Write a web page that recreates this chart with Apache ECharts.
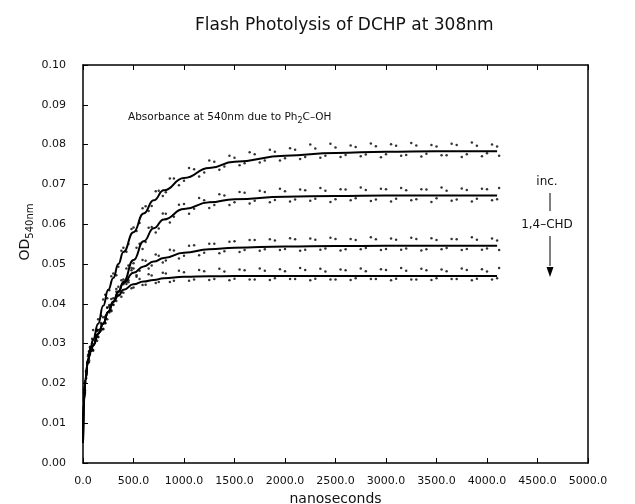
<!DOCTYPE html>
<html>
<head>
<meta charset="utf-8">
<script src="https://cdn.jsdelivr.net/npm/echarts@6/dist/echarts.min.js"></script>
<style>
  html, body { margin: 0; padding: 0; background: #fff; }
  #chart { width: 635px; height: 504px; }
</style>
</head>
<body>
<div id="chart"></div>
<script>
// fitted curves (ns, OD)
const fitTimes = [0, 10, 25, 50, 75, 100, 150, 200, 250, 300, 350, 400, 500, 600, 700, 800, 1000, 1250, 1500, 2000, 2500, 3000, 3500, 4100];
const fit1 = [0.005, 0.016, 0.021, 0.026, 0.029, 0.031, 0.035, 0.0395, 0.0435, 0.0465, 0.050, 0.053, 0.058, 0.0627, 0.066, 0.0685, 0.0716, 0.0741, 0.0757, 0.0772, 0.0779, 0.0782, 0.0783, 0.0783];
const fit2 = [0.005, 0.016, 0.021, 0.026, 0.028, 0.0295, 0.0325, 0.035, 0.038, 0.0405, 0.043, 0.0455, 0.051, 0.0557, 0.059, 0.0612, 0.0638, 0.0655, 0.0663, 0.0669, 0.0671, 0.0672, 0.0672, 0.0672];
const fit3 = [0.005, 0.016, 0.021, 0.026, 0.028, 0.0295, 0.0325, 0.035, 0.038, 0.0405, 0.043, 0.0452, 0.0478, 0.0494, 0.0506, 0.0515, 0.0528, 0.0537, 0.0541, 0.0544, 0.0545, 0.0546, 0.0546, 0.0546];
const fit4 = [0.005, 0.016, 0.021, 0.026, 0.028, 0.0295, 0.0325, 0.035, 0.038, 0.0405, 0.042, 0.0435, 0.0449, 0.0456, 0.046, 0.0464, 0.0468, 0.0469, 0.047, 0.047, 0.047, 0.047, 0.047, 0.047];

// measured points, two interleaved sweeps
const obsTimes = [10, 30, 50, 70, 90, 120, 150, 180, 220, 260, 300, 350, 400, 450, 500, 560, 620, 680, 750, 820, 900, 1000, 1100, 1200, 1300, 1400, 1500, 1600, 1700, 1800, 1900, 2000, 2100, 2200, 2300, 2400, 2500, 2600, 2700, 2800, 2900, 3000, 3100, 3200, 3300, 3400, 3500, 3600, 3700, 3800, 3900, 4000, 4100];
const obs1 = [0.0185, 0.0212, 0.0272, 0.0279, 0.0312, 0.0319, 0.0361, 0.0370, 0.0423, 0.0434, 0.0476, 0.0493, 0.0541, 0.0550, 0.0592, 0.0603, 0.0645, 0.0646, 0.0684, 0.0680, 0.0715, 0.0709, 0.0738, 0.0730, 0.0757, 0.0745, 0.0767, 0.0753, 0.0776, 0.0760, 0.0782, 0.0766, 0.0787, 0.0769, 0.0790, 0.0772, 0.0793, 0.0774, 0.0794, 0.0775, 0.0796, 0.0776, 0.0797, 0.0774, 0.0798, 0.0777, 0.0795, 0.0773, 0.0799, 0.0776, 0.0797, 0.0778, 0.0795];
const obs2 = [0.0162, 0.0231, 0.0253, 0.0291, 0.0286, 0.0322, 0.0318, 0.0352, 0.0351, 0.0397, 0.0398, 0.0443, 0.0449, 0.0496, 0.0502, 0.0551, 0.0555, 0.0593, 0.0589, 0.0626, 0.0619, 0.0651, 0.0639, 0.0660, 0.0648, 0.0672, 0.0655, 0.0679, 0.0659, 0.0681, 0.0661, 0.0683, 0.0662, 0.0685, 0.0664, 0.0684, 0.0663, 0.0687, 0.0665, 0.0686, 0.0662, 0.0688, 0.0664, 0.0685, 0.0663, 0.0687, 0.0665, 0.0684, 0.0662, 0.0686, 0.0664, 0.0688, 0.0663];
const obs3 = [0.0178, 0.0214, 0.0268, 0.0274, 0.0301, 0.0304, 0.0334, 0.0333, 0.0368, 0.0378, 0.0414, 0.0423, 0.0461, 0.0459, 0.0489, 0.0483, 0.0508, 0.0496, 0.0521, 0.0509, 0.0534, 0.0521, 0.0547, 0.0528, 0.0551, 0.0532, 0.0557, 0.0535, 0.0560, 0.0537, 0.0559, 0.0538, 0.0562, 0.0536, 0.0561, 0.0539, 0.0563, 0.0537, 0.0560, 0.0540, 0.0562, 0.0538, 0.0561, 0.0539, 0.0563, 0.0537, 0.0560, 0.0540, 0.0562, 0.0538, 0.0561, 0.0539, 0.0559];
const obs4 = [0.0158, 0.0229, 0.0251, 0.0292, 0.0284, 0.0319, 0.0316, 0.0349, 0.0352, 0.0393, 0.0397, 0.0431, 0.0428, 0.0454, 0.0441, 0.0462, 0.0448, 0.0471, 0.0455, 0.0476, 0.0458, 0.0479, 0.0461, 0.0482, 0.0462, 0.0481, 0.0463, 0.0484, 0.0461, 0.0483, 0.0464, 0.0482, 0.0462, 0.0485, 0.0463, 0.0481, 0.0461, 0.0484, 0.0464, 0.0482, 0.0462, 0.0485, 0.0463, 0.0483, 0.0461, 0.0484, 0.0464, 0.0482, 0.0462, 0.0485, 0.0463, 0.0481, 0.0464];

const obsTimesB = [20, 60, 100, 140, 200, 240, 280, 330, 380, 430, 480, 530, 590, 650, 720, 790, 860, 950, 1050, 1150, 1250, 1350, 1450, 1550, 1650, 1750, 1850, 1950, 2050, 2150, 2250, 2350, 2450, 2550, 2650, 2750, 2850, 2950, 3050, 3150, 3250, 3350, 3450, 3550, 3650, 3750, 3850, 3950, 4050, 4120];
const obs1b = [0.0203, 0.0258, 0.0334, 0.0331, 0.0411, 0.0414, 0.0469, 0.0472, 0.0533, 0.0531, 0.0588, 0.0583, 0.0640, 0.0633, 0.0683, 0.0671, 0.0715, 0.0698, 0.0741, 0.0720, 0.0760, 0.0737, 0.0772, 0.0748, 0.0781, 0.0755, 0.0787, 0.0760, 0.0791, 0.0764, 0.0800, 0.0767, 0.0802, 0.0769, 0.0798, 0.0771, 0.0803, 0.0768, 0.0801, 0.0772, 0.0804, 0.0770, 0.0799, 0.0773, 0.0802, 0.0769, 0.0805, 0.0771, 0.0800, 0.0772];
const obs2b = [0.0176, 0.0281, 0.0282, 0.0334, 0.0336, 0.0391, 0.0381, 0.0437, 0.0429, 0.0489, 0.0484, 0.0541, 0.0538, 0.0591, 0.0579, 0.0627, 0.0604, 0.0649, 0.0626, 0.0666, 0.0641, 0.0675, 0.0648, 0.0681, 0.0652, 0.0684, 0.0655, 0.0689, 0.0657, 0.0687, 0.0659, 0.0691, 0.0656, 0.0688, 0.0660, 0.0692, 0.0658, 0.0689, 0.0657, 0.0691, 0.0660, 0.0688, 0.0656, 0.0692, 0.0659, 0.0690, 0.0657, 0.0689, 0.0660, 0.0691];
const obs3b = [0.0201, 0.0254, 0.0309, 0.0307, 0.0366, 0.0361, 0.0412, 0.0407, 0.0459, 0.0450, 0.0490, 0.0472, 0.0510, 0.0489, 0.0524, 0.0504, 0.0536, 0.0514, 0.0546, 0.0522, 0.0551, 0.0527, 0.0556, 0.0530, 0.0560, 0.0533, 0.0562, 0.0535, 0.0565, 0.0533, 0.0564, 0.0536, 0.0566, 0.0534, 0.0563, 0.0537, 0.0567, 0.0535, 0.0564, 0.0536, 0.0566, 0.0534, 0.0565, 0.0537, 0.0563, 0.0535, 0.0567, 0.0536, 0.0564, 0.0535];
const obs4b = [0.0182, 0.0279, 0.0284, 0.0334, 0.0337, 0.0390, 0.0384, 0.0430, 0.0418, 0.0456, 0.0439, 0.0468, 0.0447, 0.0474, 0.0452, 0.0478, 0.0455, 0.0483, 0.0458, 0.0485, 0.0460, 0.0488, 0.0459, 0.0486, 0.0461, 0.0489, 0.0460, 0.0487, 0.0462, 0.0490, 0.0459, 0.0488, 0.0461, 0.0486, 0.0460, 0.0489, 0.0462, 0.0487, 0.0459, 0.0490, 0.0461, 0.0488, 0.0460, 0.0486, 0.0462, 0.0489, 0.0459, 0.0487, 0.0461, 0.0490];

const FONT = 'DejaVu Sans';
const INK = '#111';

function pairs(xs, ys) {
  return xs.map((x, i) => [x, ys[i]]);
}

function fitSeries(ys) {
  return {
    type: 'line',
    data: pairs(fitTimes, ys),
    smooth: true,
    smoothMonotone: 'x',
    showSymbol: false,
    lineStyle: { color: '#000', width: 2 },
    silent: true,
    z: 3,
  };
}

function obsSeries(xs, ys) {
  return {
    type: 'scatter',
    data: pairs(xs, ys),
    symbol: 'circle',
    symbolSize: 2.5,
    itemStyle: { color: '#000' },
    silent: true,
    z: 2,
  };
}

const chart = echarts.init(document.getElementById('chart'));

const axisLine = { show: true, onZero: false, lineStyle: { color: '#000', width: 1.5 } };
const axisTick = { show: true, inside: true, length: 5, lineStyle: { color: '#000', width: 1 } };

chart.setOption({
  backgroundColor: '#fff',
  animation: false,
  title: {
    text: 'Flash Photolysis of DCHP at 308nm',
    left: 190,
    top: 12,
    textStyle: { fontFamily: FONT, fontSize: 17, fontWeight: 'normal', color: INK },
  },
  grid: { left: 83, right: 47, top: 65, bottom: 41, outerBoundsMode: 'none' },
  xAxis: [{
    type: 'value',
    min: 0,
    max: 5000,
    interval: 500,
    name: 'nanoseconds',
    nameLocation: 'middle',
    nameGap: 26,
    nameTextStyle: { fontFamily: FONT, fontSize: 14, color: INK },
    axisLine, axisTick,
    splitLine: { show: false },
    axisLabel: { fontFamily: FONT, fontSize: 11, color: INK, margin: 13, formatter: (v) => v.toFixed(1) },
  }, {
    type: 'value',
    position: 'top',
    min: 0,
    max: 5000,
    interval: 500,
    axisLine, axisTick,
    splitLine: { show: false },
    axisLabel: { show: false },
  }],
  yAxis: [{
    type: 'value',
    min: 0,
    max: 0.1,
    interval: 0.01,
    axisLine, axisTick,
    splitLine: { show: false },
    axisLabel: { fontFamily: FONT, fontSize: 11, color: INK, margin: 17, formatter: (v) => v.toFixed(2) },
  }, {
    type: 'value',
    position: 'right',
    min: 0,
    max: 0.1,
    interval: 0.01,
    axisLine,
    axisTick: { show: false },
    splitLine: { show: false },
    axisLabel: { show: false },
  }],
  graphic: [
    {
      type: 'text',
      x: 25,
      y: 232,
      rotation: Math.PI / 2,
      style: {
        text: '{a|OD}{b|540nm}',
        textAlign: 'center',
        textVerticalAlign: 'middle',
        rich: {
          a: { fontFamily: FONT, fontSize: 14, lineHeight: 20, verticalAlign: 'middle', fill: INK },
          b: { fontFamily: FONT, fontSize: 10, lineHeight: 11, verticalAlign: 'bottom', fill: INK },
        },
      },
    },
    {
      type: 'text',
      x: 128,
      y: 117,
      style: {
        text: '{a|Absorbance at 540nm due to Ph}{s|2}{a|C\u2013OH}',
        textVerticalAlign: 'middle',
        rich: {
          a: { fontFamily: FONT, fontSize: 10.5, lineHeight: 16, verticalAlign: 'middle', fill: INK },
          s: { fontFamily: FONT, fontSize: 8, lineHeight: 8, verticalAlign: 'bottom', fill: INK },
        },
      },
    },
    {
      type: 'text', x: 547, y: 182,
      style: { text: 'inc.', fontFamily: FONT, fontSize: 12, fill: INK, textAlign: 'center', textVerticalAlign: 'middle' },
    },
    {
      type: 'line', shape: { x1: 550, y1: 193, x2: 550, y2: 211 },
      style: { stroke: '#000', lineWidth: 1 },
    },
    {
      type: 'text', x: 547, y: 225,
      style: { text: '1,4\u2013CHD', fontFamily: FONT, fontSize: 12, fill: INK, textAlign: 'center', textVerticalAlign: 'middle' },
    },
    {
      type: 'line', shape: { x1: 550, y1: 236, x2: 550, y2: 266 },
      style: { stroke: '#000', lineWidth: 1 },
    },
    {
      type: 'polygon', shape: { points: [[546.5, 267], [553.5, 267], [550, 277]] },
      style: { fill: '#000' },
    },
  ],
  series: [
    obsSeries(obsTimes, obs1), obsSeries(obsTimes, obs2), obsSeries(obsTimes, obs3), obsSeries(obsTimes, obs4),
    obsSeries(obsTimesB, obs1b), obsSeries(obsTimesB, obs2b), obsSeries(obsTimesB, obs3b), obsSeries(obsTimesB, obs4b),
    fitSeries(fit1), fitSeries(fit2), fitSeries(fit3), fitSeries(fit4),
  ],
});
</script>
</body>
</html>
